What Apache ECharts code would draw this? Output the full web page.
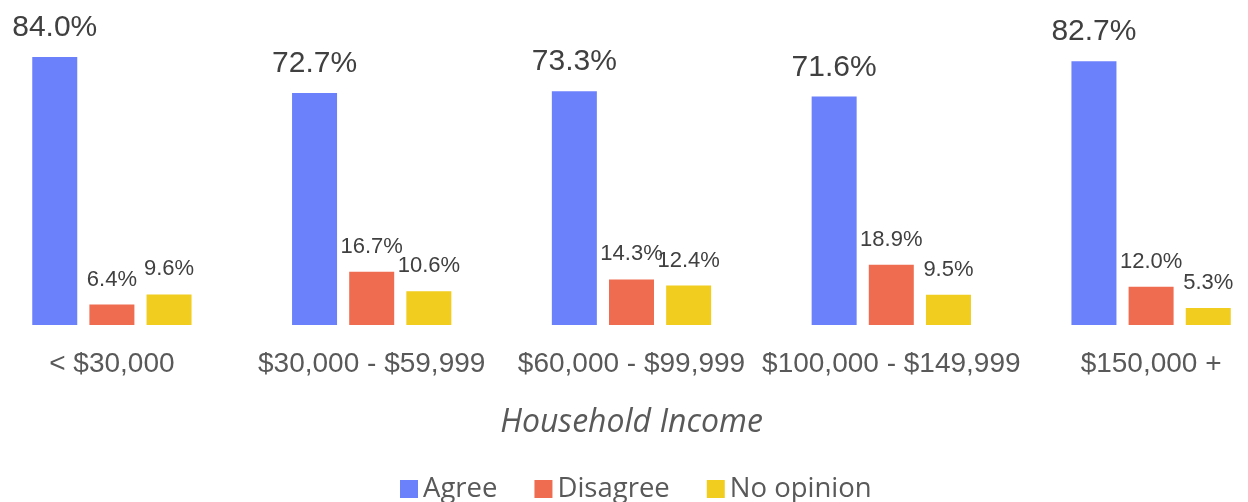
<!DOCTYPE html>
<html>
<head>
<meta charset="UTF-8">
<title>Household Income</title>
<script src="https://cdn.jsdelivr.net/npm/echarts@6/dist/echarts.min.js"></script>
</head>
<body style="margin:0">
<div id="chart" style="width:1248px;height:502px"></div>
<script>
    var categories = ['< $30,000', '$30,000 - $59,999', '$60,000 - $99,999', '$100,000 - $149,999', '$150,000 +'];
    var agree = [84.0, 72.7, 73.3, 71.6, 82.7];
    var disagree = [6.4, 16.7, 14.3, 18.9, 12.0];
    var noOpinion = [9.6, 10.6, 12.4, 9.5, 5.3];

    var chart = echarts.init(document.getElementById('chart'));

    function pct(p) {
        return p.value.toFixed(1) + '%';
    }

    var option = {
        animation: false,
        color: ['#6B80FB', '#F06C50', '#F0CD1F'],
        grid: {
            left: -18, right: -33, top: 6, bottom: 177,
            outerBoundsMode: 'none'
        },
        legend: {
            left: 395, bottom: -6,
            itemWidth: 18, itemHeight: 18, itemGap: 37,
            icon: 'rect',
            textStyle: { fontFamily: 'Open Sans', fontSize: 27.5, color: '#595959' },
            data: ['Agree', 'Disagree', 'No opinion']
        },
        xAxis: {
            type: 'category',
            data: categories,
            axisLine: { show: false },
            axisTick: { show: false },
            axisLabel: {
                interval: 0, margin: 25,
                fontFamily: 'Liberation Sans', fontSize: 28, color: '#595959'
            },
            name: 'Household Income',
            nameLocation: 'middle',
            nameGap: 82,
            nameTextStyle: {
                fontFamily: 'Open Sans', fontStyle: 'italic', fontSize: 32, color: '#595959'
            }
        },
        yAxis: {
            type: 'value', min: 0, max: 100, show: false
        },
        series: [
            {
                name: 'Agree', type: 'bar', data: agree, barWidth: 45, barGap: '27%',
                label: {
                    show: true, position: 'top', distance: 14, formatter: pct,
                    fontFamily: 'Liberation Sans', fontSize: 30, color: '#404040'
                }
            },
            {
                name: 'Disagree', type: 'bar', data: disagree, barWidth: 45, barGap: '27%',
                label: {
                    show: true, position: 'top', distance: 14, formatter: pct,
                    fontFamily: 'Liberation Sans', fontSize: 22, color: '#404040'
                }
            },
            {
                name: 'No opinion', type: 'bar', data: noOpinion, barWidth: 45, barGap: '27%',
                label: {
                    show: true, position: 'top', distance: 14, formatter: pct,
                    fontFamily: 'Liberation Sans', fontSize: 22, color: '#404040'
                }
            }
        ]
    };

    chart.setOption(option);
</script>
</body>
</html>
